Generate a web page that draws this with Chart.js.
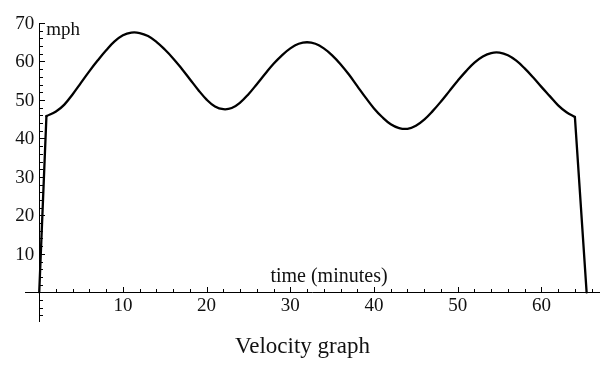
<!DOCTYPE html>
<html>
<head>
<meta charset="utf-8">
<script src="https://cdn.jsdelivr.net/npm/chart.js@4/dist/chart.umd.min.js"></script>
<style>
html,body{margin:0;padding:0;background:#fff;}
canvas{display:block;}
</style>
</head>
<body>
<canvas id="c" width="615" height="371"></canvas>
<script>
// time (minutes)
const times = [0, 0.86, 2, 3, 4, 5, 6, 7, 8, 9, 10, 11, 12, 13, 14, 15, 16, 17, 18, 19, 20, 21, 22, 23, 24, 25, 26, 27, 28, 29, 30, 31, 32, 33, 34, 35, 36, 37, 38, 39, 40, 41, 42, 43, 44, 45, 46, 47, 48, 49, 50, 51, 52, 53, 54, 55, 56, 57, 58, 59, 60, 61, 62, 63, 64, 65.4];
// velocity (mph)
const speeds = [0, 45.8, 47, 48.8, 51.5, 54.5, 57.5, 60.3, 62.9, 65.2, 66.8, 67.5, 67.4, 66.6, 65.1, 63.1, 60.8, 58.2, 55.4, 52.6, 50.1, 48.3, 47.6, 47.9, 49.3, 51.5, 54.1, 56.8, 59.4, 61.6, 63.4, 64.6, 65, 64.6, 63.4, 61.6, 59.3, 56.6, 53.6, 50.6, 47.8, 45.5, 43.7, 42.7, 42.5, 43.3, 44.9, 47.1, 49.6, 52.3, 55, 57.5, 59.7, 61.3, 62.2, 62.3, 61.6, 60.2, 58.2, 55.9, 53.4, 51, 48.6, 46.8, 45.6, 0];
const xTickValues = [10, 20, 30, 40, 50, 60];
const xTickLabels = ['10', '20', '30', '40', '50', '60'];
const yTickValues = [10, 20, 30, 40, 50, 60, 70];
const yTickLabels = ['10', '20', '30', '40', '50', '60', '70'];
const xAxisTitle = 'time (minutes)';
const yAxisTitle = 'mph';
const caption = 'Velocity graph';

const FONT = '"Liberation Serif", "Times New Roman", serif';

const pts = times.map((t, i) => ({ x: t, y: speeds[i] }));
const n = pts.length;

const axesPlugin = {
  id: 'mmaAxes',
  beforeDatasetsDraw(chart) {
    const ctx = chart.ctx;
    const xs = chart.scales.x, ys = chart.scales.y;
    const x0 = xs.getPixelForValue(0), y0 = ys.getPixelForValue(0);
    ctx.save();
    ctx.strokeStyle = '#000';
    ctx.lineWidth = 1;
    ctx.beginPath();
    ctx.moveTo(xs.left, Math.round(y0) + 0.5);
    ctx.lineTo(xs.right, Math.round(y0) + 0.5);
    ctx.moveTo(Math.round(x0) + 0.5, ys.top);
    ctx.lineTo(Math.round(x0) + 0.5, ys.bottom);
    for (let v = 2; v <= xs.max; v += 2) {
      const px = Math.round(xs.getPixelForValue(v)) + 0.5;
      const len = (v % 10 === 0) ? 5 : 3;
      ctx.moveTo(px, Math.round(y0));
      ctx.lineTo(px, Math.round(y0) - len);
    }
    for (let v = -6; v <= ys.max + 0.01; v += 2) {
      if (v === 0) continue;
      const py = Math.round(ys.getPixelForValue(v)) + 0.5;
      const len = (v % 10 === 0) ? 5 : 3;
      ctx.moveTo(Math.round(x0) + 1, py);
      ctx.lineTo(Math.round(x0) + 1 + len, py);
    }
    ctx.stroke();
    ctx.restore();
  },
  afterDraw(chart) {
    const ctx = chart.ctx;
    const xs = chart.scales.x, ys = chart.scales.y;
    const x0 = xs.getPixelForValue(0), y0 = ys.getPixelForValue(0);
    ctx.save();
    ctx.fillStyle = '#111';
    ctx.font = '19px ' + FONT;
    ctx.textAlign = 'center';
    ctx.textBaseline = 'middle';
    xTickValues.forEach((v, i) => {
      ctx.fillText(xTickLabels[i], xs.getPixelForValue(v), y0 + 14);
    });
    ctx.textAlign = 'right';
    yTickValues.forEach((v, i) => {
      ctx.fillText(yTickLabels[i], x0 - 5, ys.getPixelForValue(v) + 1);
    });
    ctx.textBaseline = 'alphabetic';
    ctx.textAlign = 'left';
    ctx.font = '19px ' + FONT;
    ctx.fillText(yAxisTitle, x0 + 7, 34.5);
    ctx.textAlign = 'center';
    ctx.font = '20px ' + FONT;
    ctx.fillText(xAxisTitle, 329, 282);
    ctx.font = '23px ' + FONT;
    ctx.fillText(caption, 302.5, 353);
    ctx.restore();
  }
};

const lineStyle = { borderColor: '#000', borderWidth: 2.3, pointRadius: 0, fill: false, borderJoinStyle: 'round', borderCapStyle: 'round' };

new Chart(document.getElementById('c'), {
  type: 'line',
  data: {
    datasets: [
      Object.assign({ data: pts.slice(0, 2), tension: 0 }, lineStyle),
      Object.assign({ data: pts.slice(1, n - 1), tension: 0.4 }, lineStyle),
      Object.assign({ data: pts.slice(n - 2), tension: 0 }, lineStyle)
    ]
  },
  options: {
    responsive: false,
    animation: false,
    events: [],
    layout: { padding: { left: 25, right: 15, top: 23, bottom: 49 } },
    plugins: { legend: { display: false }, tooltip: { enabled: false }, title: { display: false } },
    scales: {
      x: { type: 'linear', min: -1.7, max: 67, display: false },
      y: { type: 'linear', min: -7.7, max: 70, display: false }
    }
  },
  plugins: [axesPlugin]
});
</script>
</body>
</html>
